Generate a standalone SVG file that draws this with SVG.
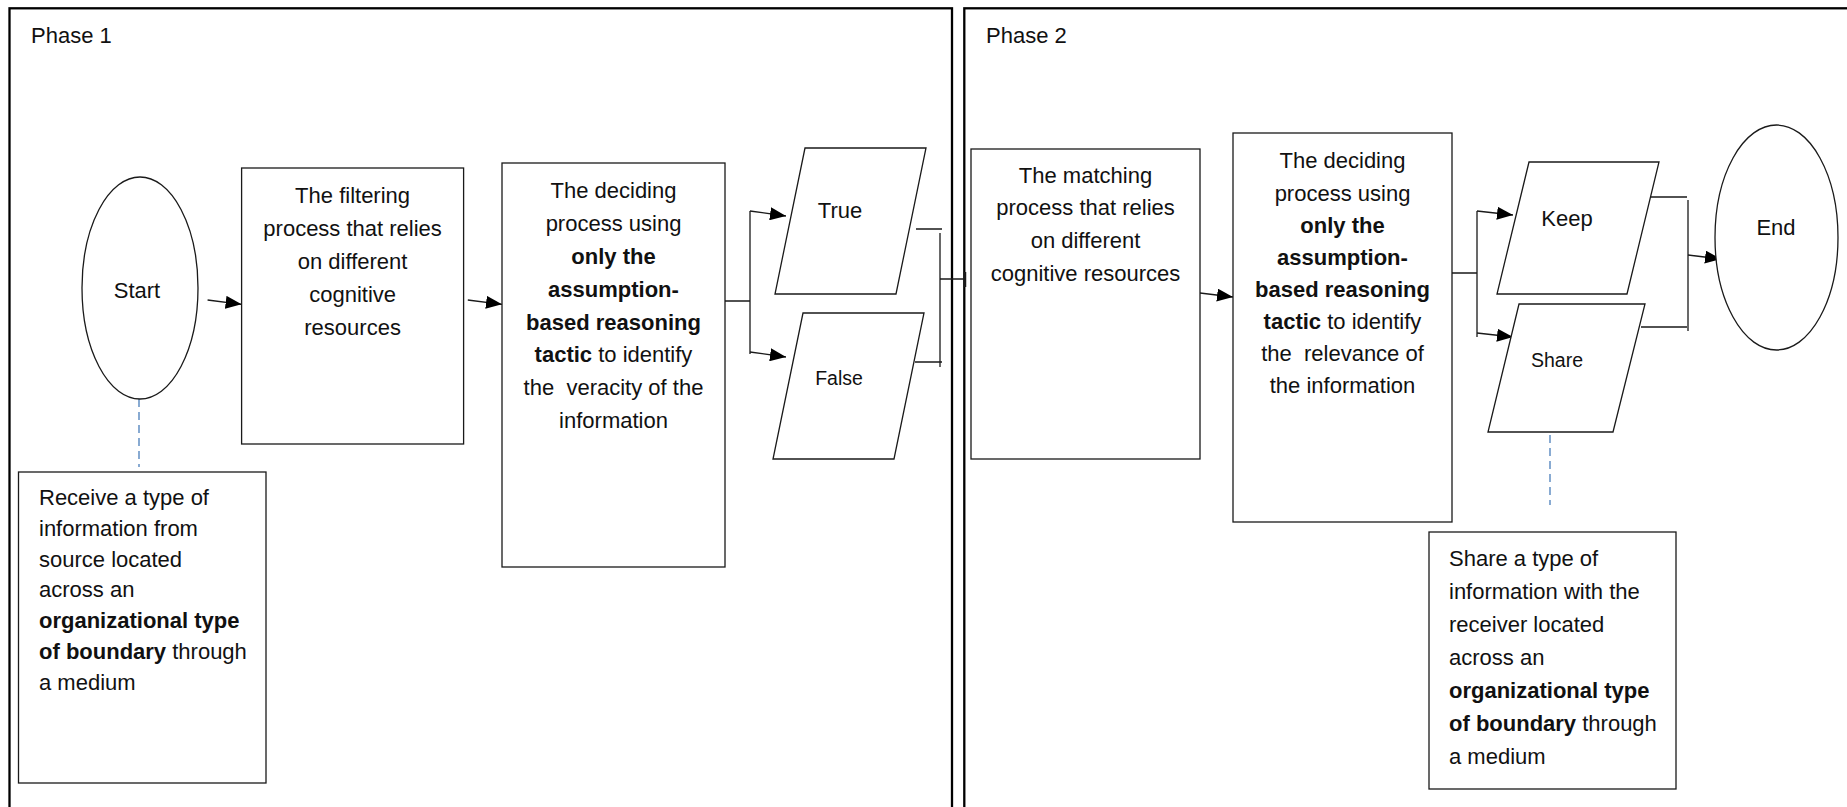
<svg xmlns="http://www.w3.org/2000/svg" width="1847" height="807" viewBox="0 0 1847 807">
  <style>
    text { font-family: "Liberation Sans", Arial, sans-serif; font-size: 22px; fill: #111; }
    .c { text-anchor: middle; }
    .b { font-weight: bold; }
    .sm { font-size: 19.5px; }
    .frame { fill: none; stroke: #000; stroke-width: 2.3; }
    .box { fill: #fff; stroke: #1a1a1a; stroke-width: 1.3; }
    .ln { fill: none; stroke: #1a1a1a; stroke-width: 1.3; }
    .arr { fill: none; stroke: #1a1a1a; stroke-width: 1.3; marker-end: url(#head); }
    .dash { fill: none; stroke: #4a7ebb; stroke-width: 1.3; stroke-dasharray: 8 5; }
  </style>
  <defs>
    <marker id="head" viewBox="0 0 16 13" markerWidth="16" markerHeight="13" refX="16" refY="6.5" orient="auto" markerUnits="userSpaceOnUse">
      <path d="M0,0 L16,6.5 L0,13 Z" fill="#000"/>
    </marker>
  </defs>
  <rect width="1847" height="807" fill="#fff"/>

  <!-- phase frames -->
  <g id="phase1">
    <rect class="frame" x="9.5" y="8.3" width="942.5" height="830"/>
    <text x="31" y="43.3">Phase 1</text>
  </g>
  <g id="phase2">
    <rect class="frame" x="964.3" y="8.3" width="920" height="830"/>
    <text x="986" y="43.3">Phase 2</text>
  </g>

  <!-- connectors -->
  <g id="connectors">
    <path class="arr" d="M207.6,300 L241.6,304.3"/>
    <path class="arr" d="M467.8,300 L502,304.3"/>
    <path class="ln" d="M725,301 H750 M750,211 V354"/>
    <path class="arr" d="M750,211 L786,216"/>
    <path class="arr" d="M750,352 L786,357"/>
    <path class="ln" d="M916,229 H942 M915,362 H942 M940,233 V367 M940,279 H964"/>
    <path class="ln" d="M965,272 V287" style="stroke-width:2.5"/>
    <path class="arr" d="M1200,293 L1233,297"/>
    <path class="ln" d="M1452,273 H1477 M1477,211 V337"/>
    <path class="arr" d="M1477,211 L1513,215"/>
    <path class="arr" d="M1477,333 L1513,337"/>
    <path class="ln" d="M1651,197 H1687 M1641,327 H1687 M1688,200 V331"/>
    <path class="arr" d="M1688,255 L1721,259"/>
    <path class="dash" d="M139,399 V467"/>
    <path class="dash" d="M1550,435 V505"/>
  </g>

  <g id="start">
    <ellipse class="box" cx="140" cy="288" rx="58" ry="111"/>
    <text class="c" x="137" y="298">Start</text>
  </g>

  <g id="receive">
    <rect class="box" x="18.5" y="472" width="247.5" height="311"/>
    <text x="39" y="505">Receive a type of</text>
    <text x="39" y="535.8">information from</text>
    <text x="39" y="566.6">source located</text>
    <text x="39" y="597.4">across an</text>
    <text x="39" y="628.2" class="b">organizational type</text>
    <text x="39" y="659"><tspan class="b">of boundary</tspan> through</text>
    <text x="39" y="689.8">a medium</text>
  </g>

  <g id="filter">
    <rect class="box" x="241.6" y="168" width="222" height="276"/>
    <text class="c" x="352.6" y="203">The filtering</text>
    <text class="c" x="352.6" y="236">process that relies</text>
    <text class="c" x="352.6" y="269">on different</text>
    <text class="c" x="352.6" y="302">cognitive</text>
    <text class="c" x="352.6" y="335">resources</text>
  </g>

  <g id="decide1">
    <rect class="box" x="502" y="163" width="223" height="404"/>
    <text class="c" x="613.5" y="198.3">The deciding</text>
    <text class="c" x="613.5" y="231.1">process using</text>
    <text class="c b" x="613.5" y="263.9">only the</text>
    <text class="c b" x="613.5" y="296.7">assumption-</text>
    <text class="c b" x="613.5" y="329.5">based reasoning</text>
    <text class="c" x="613.5" y="362.3"><tspan class="b">tactic</tspan> to identify</text>
    <text class="c" x="613.5" y="395.1" style="white-space:pre">the  veracity of the</text>
    <text class="c" x="613.5" y="427.9">information</text>
  </g>

  <g id="true">
    <polygon class="box" points="805,148 926,148 896,294 775,294"/>
    <text class="c" x="840" y="218">True</text>
  </g>

  <g id="false">
    <polygon class="box" points="803,313 924,313 894,459 773,459"/>
    <text class="c sm" x="839" y="385">False</text>
  </g>

  <g id="matching">
    <rect class="box" x="971" y="149" width="229" height="310"/>
    <text class="c" x="1085.5" y="182.5">The matching</text>
    <text class="c" x="1085.5" y="215.3">process that relies</text>
    <text class="c" x="1085.5" y="248.2">on different</text>
    <text class="c" x="1085.5" y="281">cognitive resources</text>
  </g>

  <g id="decide2">
    <rect class="box" x="1233" y="133" width="219" height="389"/>
    <text class="c" x="1342.5" y="168.3">The deciding</text>
    <text class="c" x="1342.5" y="200.5">process using</text>
    <text class="c b" x="1342.5" y="232.6">only the</text>
    <text class="c b" x="1342.5" y="264.8">assumption-</text>
    <text class="c b" x="1342.5" y="296.9">based reasoning</text>
    <text class="c" x="1342.5" y="329.1"><tspan class="b">tactic</tspan> to identify</text>
    <text class="c" x="1342.5" y="361.2" style="white-space:pre">the  relevance of</text>
    <text class="c" x="1342.5" y="393.4">the information</text>
  </g>

  <g id="keep">
    <polygon class="box" points="1529,162 1659,162 1627,294 1497,294"/>
    <text class="c" x="1567" y="226">Keep</text>
  </g>

  <g id="share">
    <polygon class="box" points="1519,304 1645,304 1613,432 1488,432"/>
    <text class="c sm" x="1557" y="367">Share</text>
  </g>

  <g id="end">
    <ellipse class="box" cx="1776.5" cy="237.5" rx="61.5" ry="112.5"/>
    <text class="c" x="1776" y="235">End</text>
  </g>

  <g id="share-info">
    <rect class="box" x="1429" y="532" width="247" height="257"/>
    <text x="1449" y="566">Share a type of</text>
    <text x="1449" y="599">information with the</text>
    <text x="1449" y="632">receiver located</text>
    <text x="1449" y="665">across an</text>
    <text x="1449" y="698" class="b">organizational type</text>
    <text x="1449" y="731"><tspan class="b">of boundary</tspan> through</text>
    <text x="1449" y="764">a medium</text>
  </g>
</svg>
